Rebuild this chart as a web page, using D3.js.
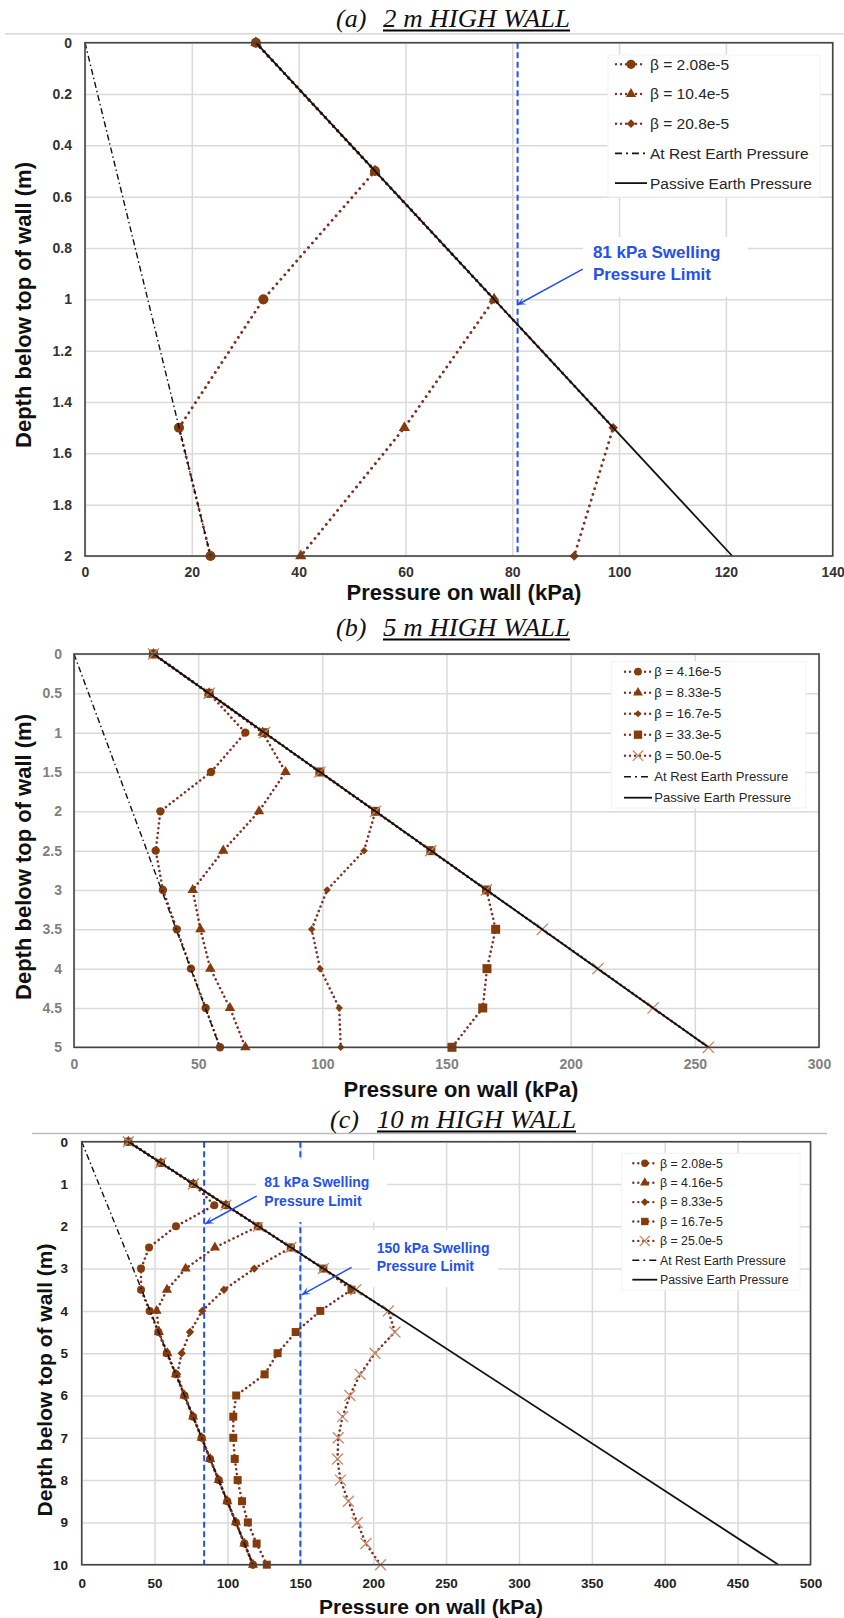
<!DOCTYPE html>
<html>
<head>
<meta charset="utf-8">
<script src="https://cdn.jsdelivr.net/npm/d3@7"></script>
<style>
  body { margin: 0; background: #fff; }
  svg { display: block; font-family: "Liberation Sans", Arial, sans-serif; }
</style>
</head>
<body>
<svg id="fig" width="844" height="1618"></svg>
<script>
// ---------- data (pressure in kPa vs depth in m) ----------
// (a) 2 m wall
const depthA = [0, 0.5, 1, 1.5, 2];
const a_b208 = [32, 54.3, 33.4, 17.6, 23.5];
const a_b104 = [32, 54.3, 76.6, 59.8, 40.4];
const a_b208x10 = [32, 54.3, 76.6, 98.9, 91.6];
const a_restEnds = [0, 23.5];
const a_passiveEnds = [32, 121.2];

// (b) 5 m wall
const depthB = [0, 0.5, 1, 1.5, 2, 2.5, 3, 3.5, 4, 4.5, 5];
const b_b416 = [32, 54.4, 69.0, 55.2, 34.8, 32.9, 35.8, 41.4, 47.1, 53.0, 58.8];
const b_b833 = [32, 54.4, 76.0, 85.2, 74.5, 60.1, 47.8, 50.9, 54.9, 62.8, 69.0];
const b_b167 = [32, 54.4, 76.7, 99.0, 121.4, 116.8, 101.9, 95.7, 99.1, 106.8, 107.4];
const b_b333 = [32, 54.4, 76.7, 99.0, 121.4, 143.7, 166.1, 169.8, 166.3, 164.6, 152.2];
const b_b500 = [32, 54.4, 76.7, 99.0, 121.4, 143.7, 166.1, 188.6, 211.0, 233.2, 255.5];
const b_restEnds = [0, 58.75];
const b_passiveEnds = [32, 255.5];

// (c) 10 m wall
const depthC = [0, 0.5, 1, 1.5, 2, 2.5, 3, 3.5, 4, 4.5, 5, 5.5, 6, 6.5, 7, 7.5, 8, 8.5, 9, 9.5, 10];
const c_b208 = [32, 54.3, 76.6, 91.0, 64.7, 46.2, 40.7, 40.7, 46.6, 52.6, 58.3, 64.6, 70.5, 76.4, 82.3, 88.1, 94.0, 99.9, 105.8, 111.6, 117.5];
const c_b416 = [32, 54.3, 76.6, 98.9, 121.2, 91.4, 71.3, 58.5, 51.4, 53.0, 58.8, 64.6, 70.5, 76.4, 82.3, 88.1, 94.0, 99.9, 105.8, 111.6, 117.5];
const c_b833 = [32, 54.3, 76.6, 98.9, 121.2, 143.5, 118.4, 97.6, 82.7, 74.3, 68.6, 65.5, 70.5, 76.4, 82.3, 88.1, 94.0, 99.9, 105.8, 111.6, 117.5];
const c_b167 = [32, 54.3, 76.6, 98.9, 121.2, 143.5, 165.8, 185.1, 163.7, 146.8, 134.4, 125.5, 106.0, 104.0, 104.0, 105.0, 107.0, 110.0, 114.0, 120.0, 127.0];
const c_b250 = [32, 54.3, 76.6, 98.9, 121.2, 143.5, 165.8, 188.1, 210.4, 214.9, 201.2, 191.0, 184.0, 179.0, 176.0, 175.5, 177.5, 183.0, 189.0, 195.0, 205.0];
const c_restEnds = [0, 117.5];
const c_passiveEnds = [32, 478];

// swelling pressure limit lines
const limitsA = [81];
const limitsC = [84, 150];

const BROWN = "#843C0C";
const DOTS = "#7E3122";
const BLUE = "#2450F0";

const svg = d3.select("#fig");

function marker(sel, shape, size) {
  const type = shape === "circle" ? d3.symbolCircle
    : shape === "triangle" ? d3.symbolTriangle
    : shape === "cross" ? d3.symbolX
    : d3.symbolSquare;
  sel.attr("d", d3.symbol().type(type).size(size));
  if (shape === "diamond") sel.attr("transform", function () { return d3.select(this).attr("transform") + " rotate(45)"; });
  if (shape === "cross") sel.attr("fill", "none").attr("stroke", "#C48A66").attr("stroke-width", 1.3);
  else sel.attr("fill", BROWN);
}

function panel(p) {
  const g = svg.append("g");
  const x = d3.scaleLinear().domain(p.xDom).range([p.left, p.right]);
  const y = d3.scaleLinear().domain(p.yDom).range([p.top, p.bottom]);
  const fmt = d => String(+d.toFixed(1));

  // axes with grid lines
  g.append("g").attr("transform", `translate(0,${p.bottom})`)
    .call(d3.axisBottom(x).tickValues(p.xTicks).tickSize(-(p.bottom - p.top)).tickPadding(p.xPad).tickFormat(fmt))
    .call(a => a.select(".domain").remove())
    .call(a => a.selectAll("line").attr("stroke", "#dadada").attr("stroke-width", 1.5))
    .call(a => a.selectAll("text").attr("font-size", p.tickFont).attr("font-weight", "bold")
      .attr("fill", p.tickColor).attr("font-family", "Liberation Sans, Arial, sans-serif"));
  g.append("g").attr("transform", `translate(${p.left},0)`)
    .call(d3.axisLeft(y).tickValues(p.yTicks).tickSize(-(p.right - p.left)).tickPadding(p.yPad).tickFormat(fmt))
    .call(a => a.select(".domain").remove())
    .call(a => a.selectAll("line").attr("stroke", "#dadada").attr("stroke-width", 1.5))
    .call(a => a.selectAll("text").attr("font-size", p.tickFont).attr("font-weight", "bold")
      .attr("fill", p.tickColor).attr("font-family", "Liberation Sans, Arial, sans-serif"));

  // swelling limit lines
  g.selectAll(".limit").data(p.limits).join("line").attr("class", "limit")
    .attr("x1", d => x(d)).attr("x2", d => x(d)).attr("y1", p.top).attr("y2", p.bottom)
    .attr("stroke", BLUE).attr("stroke-width", 2).attr("stroke-dasharray", "6 3.5");

  // beta series
  const line = d3.line().x(d => x(d[1])).y(d => y(d[0]));
  p.series.forEach(s => {
    const pts = p.depth.map((z, i) => [z, s.values[i]]);
    g.append("path").attr("d", line(pts)).attr("fill", "none").attr("stroke", DOTS)
      .attr("stroke-width", p.dotW).attr("stroke-linecap", "round").attr("stroke-dasharray", p.dotDash);
    g.append("g").selectAll("path").data(pts).join("path")
      .attr("transform", d => `translate(${x(d[1])},${y(d[0])})`)
      .call(sel => marker(sel, s.shape, p.msize[s.shape]));
  });

  // at rest and passive
  const ends = [p.yDom[0], p.yDom[1]];
  g.append("path").attr("d", line(ends.map((z, i) => [z, p.rest[i]])))
    .attr("fill", "none").attr("stroke", "#111").attr("stroke-width", 1.4).attr("stroke-dasharray", "6 3 1.5 3");
  g.append("path").attr("d", line(ends.map((z, i) => [z, p.passive[i]])))
    .attr("fill", "none").attr("stroke", "#111").attr("stroke-width", 1.8);

  // frame
  g.append("rect").attr("x", p.left).attr("y", p.top).attr("width", p.right - p.left).attr("height", p.bottom - p.top)
    .attr("fill", "none").attr("stroke", "#444").attr("stroke-width", 1.6);

  // annotations
  p.notes.forEach(n => {
    g.append("rect").attr("x", x(n.box[0])).attr("y", y(n.box[1]))
      .attr("width", x(n.box[2]) - x(n.box[0])).attr("height", y(n.box[3]) - y(n.box[1])).attr("fill", "#fff");
    n.lines.forEach((t, i) => {
      g.append("text").attr("x", x(n.tx)).attr("y", y(n.ty[i])).text(t)
        .attr("font-size", n.font).attr("font-weight", "bold").attr("fill", BLUE);
    });
    const x1 = x(n.from[0]), y1 = y(n.from[1]), x2 = x(n.to[0]), y2 = y(n.to[1]);
    g.append("line").attr("x1", x1).attr("y1", y1).attr("x2", x2).attr("y2", y2)
      .attr("stroke", BLUE).attr("stroke-width", 1.5);
    const ang = Math.atan2(y2 - y1, x2 - x1);
    const hl = 9, hw = 4;
    const bx = x2 - hl * Math.cos(ang), by = y2 - hl * Math.sin(ang);
    g.append("path").attr("d", `M${x2},${y2}L${bx - hw * Math.sin(ang)},${by + hw * Math.cos(ang)}` +
      `L${bx + 0.5 * hl * Math.cos(ang)},${by + 0.5 * hl * Math.sin(ang)}L${bx + hw * Math.sin(ang)},${by - hw * Math.cos(ang)}Z`)
      .attr("fill", BLUE);
  });

  // legend
  const L = p.legend;
  g.append("rect").attr("x", L.box[0]).attr("y", L.box[1]).attr("width", L.box[2] - L.box[0])
    .attr("height", L.box[3] - L.box[1]).attr("fill", "#fff").attr("stroke", "#f2f2f2");
  const items = p.series.map(s => ({ label: s.label, kind: "s", shape: s.shape }))
    .concat([{ label: "At Rest Earth Pressure", kind: "rest" }, { label: "Passive Earth Pressure", kind: "passive" }]);
  items.forEach((it, i) => {
    const yy = L.y0 + i * L.dy;
    const li = g.append("g");
    if (it.kind === "s") {
      li.append("line").attr("x1", L.sx + 1).attr("x2", L.sx + L.sw - 1).attr("y1", yy).attr("y2", yy)
        .attr("stroke", DOTS).attr("stroke-width", 2.4).attr("stroke-linecap", "round").attr("stroke-dasharray", "0.01 5");
      li.append("path").attr("transform", `translate(${L.sx + L.sw / 2},${yy})`)
        .call(sel => marker(sel, it.shape, p.msize[it.shape] * 0.85));
    } else {
      li.append("line").attr("x1", L.sx).attr("x2", L.sx + L.sw).attr("y1", yy).attr("y2", yy)
        .attr("stroke", "#111").attr("stroke-width", it.kind === "rest" ? 1.6 : 1.8)
        .attr("stroke-dasharray", it.kind === "rest" ? "7 4 2 4" : null);
    }
    li.append("text").attr("x", L.tx).attr("y", yy).attr("dy", "0.35em").text(it.label)
      .attr("font-size", L.font).attr("fill", "#262626");
  });

  // axis titles
  g.append("text").attr("x", p.xTitle[0]).attr("y", p.xTitle[1]).attr("text-anchor", "middle")
    .attr("font-size", p.titleFont).attr("font-weight", "bold").attr("fill", "#111").text("Pressure on wall (kPa)");
  g.append("text").attr("transform", `translate(${p.yTitle[0]},${p.yTitle[1]}) rotate(-90)`).attr("text-anchor", "middle")
    .attr("font-size", p.titleFont).attr("font-weight", "bold").attr("fill", "#111").text("Depth below top of wall (m)");
}

function heading(lab, main, xLab, xMain, base, len) {
  const f = "Liberation Serif, Times New Roman, serif";
  svg.append("text").attr("x", xLab).attr("y", base).text(lab)
    .attr("font-family", f).attr("font-style", "italic").attr("font-size", 26).attr("fill", "#111");
  svg.append("text").attr("x", xMain).attr("y", base).text(main)
    .attr("font-family", f).attr("font-style", "italic").attr("font-size", 26).attr("fill", "#111")
    .attr("textLength", len).attr("lengthAdjust", "spacingAndGlyphs");
  svg.append("line").attr("x1", xMain).attr("x2", xMain + len).attr("y1", base + 3.5).attr("y2", base + 3.5)
    .attr("stroke", "#000").attr("stroke-width", 2);
}

// separators
svg.append("line").attr("x1", 5).attr("x2", 844).attr("y1", 33.8).attr("y2", 33.8).attr("stroke", "#cfcfcf").attr("stroke-width", 1.3);
svg.append("line").attr("x1", 32).attr("x2", 827).attr("y1", 1133.5).attr("y2", 1133.5).attr("stroke", "#bdbdbd").attr("stroke-width", 1.3);

heading("(a)", "2 m HIGH WALL", 336, 383, 27, 187);
heading("(b)", "5 m HIGH WALL", 336, 383, 636, 187);
heading("(c)", "10 m HIGH WALL", 330, 377, 1128, 199);

panel({
  left: 85, right: 832.7, top: 42.7, bottom: 556,
  xDom: [0, 140], yDom: [0, 2], xTicks: d3.range(0, 141, 20), yTicks: d3.range(0, 2.01, 0.2),
  xPad: 11, yPad: 13, tickFont: 14, tickColor: "#333",
  depth: depthA,
  series: [
    { label: "β = 2.08e-5", shape: "circle", values: a_b208 },
    { label: "β = 10.4e-5", shape: "triangle", values: a_b104 },
    { label: "β = 20.8e-5", shape: "diamond", values: a_b208x10 }
  ],
  msize: { circle: 80, triangle: 55, diamond: 45, square: 81, cross: 90 },
  dotW: 2.9, dotDash: "0.01 6",
  rest: a_restEnds, passive: a_passiveEnds, limits: limitsA,
  notes: [{
    lines: ["81 kPa Swelling", "Pressure Limit"], font: 17,
    tx: 95.1, ty: [0.84, 0.926], box: [93.2, 0.757, 124.1, 0.991],
    from: [93.2, 0.882], to: [80.9, 1.022]
  }],
  legend: { box: [608, 55, 820, 197], y0: 64.3, dy: 29.7, sx: 615, sw: 32, tx: 650, font: 15.5 },
  titleFont: 22, xTitle: [464, 600], yTitle: [31, 305]
});

panel({
  left: 74, right: 819, top: 654, bottom: 1047.3,
  xDom: [0, 300], yDom: [0, 5], xTicks: d3.range(0, 301, 50), yTicks: d3.range(0, 5.01, 0.5),
  xPad: 12, yPad: 12, tickFont: 14, tickColor: "#7f7f7f",
  depth: depthB,
  series: [
    { label: "β = 4.16e-5", shape: "circle", values: b_b416 },
    { label: "β = 8.33e-5", shape: "triangle", values: b_b833 },
    { label: "β = 16.7e-5", shape: "diamond", values: b_b167 },
    { label: "β = 33.3e-5", shape: "square", values: b_b333 },
    { label: "β = 50.0e-5", shape: "cross", values: b_b500 }
  ],
  msize: { circle: 55, triangle: 48, diamond: 28, square: 81, cross: 85 },
  dotW: 2.6, dotDash: "0.01 4.8",
  rest: b_restEnds, passive: b_passiveEnds, limits: [],
  notes: [],
  legend: { box: [611.7, 661.7, 805.7, 808], y0: 671.7, dy: 21, sx: 624, sw: 28, tx: 654.3, font: 13.1 },
  titleFont: 22, xTitle: [461, 1097], yTitle: [31, 857]
});

panel({
  left: 81.7, right: 810.5, top: 1141.7, bottom: 1564.7,
  xDom: [0, 500], yDom: [0, 10], xTicks: d3.range(0, 501, 50), yTicks: d3.range(0, 10.01, 1),
  xPad: 14, yPad: 13.7, tickFont: 13.5, tickColor: "#222",
  depth: depthC,
  series: [
    { label: "β = 2.08e-5", shape: "circle", values: c_b208 },
    { label: "β = 4.16e-5", shape: "triangle", values: c_b416 },
    { label: "β = 8.33e-5", shape: "diamond", values: c_b833 },
    { label: "β = 16.7e-5", shape: "square", values: c_b167 },
    { label: "β = 25.0e-5", shape: "cross", values: c_b250 }
  ],
  msize: { circle: 50, triangle: 45, diamond: 35, square: 64, cross: 80 },
  dotW: 2.6, dotDash: "0.01 4.8",
  rest: c_restEnds, passive: c_passiveEnds, limits: limitsC,
  notes: [{
    lines: ["81 kPa Swelling", "Pressure Limit"], font: 14,
    tx: 125.3, ty: [1.08, 1.51], box: [119.6, 0.43, 209.5, 1.9],
    from: [120.1, 1.284], to: [84.6, 1.946]
  }, {
    lines: ["150 kPa Swelling", "Pressure Limit"], font: 14,
    tx: 202.4, ty: [2.64, 3.06], box: [197.8, 2.09, 285.6, 3.44],
    from: [185.2, 2.97], to: [150.9, 3.62]
  }],
  legend: { box: [621.7, 1153.3, 800, 1290], y0: 1163.3, dy: 19.4, sx: 632.3, sw: 25, tx: 660, font: 12.3 },
  titleFont: 21, xTitle: [431, 1614], yTitle: [52, 1380]
});
</script>
</body>
</html>
